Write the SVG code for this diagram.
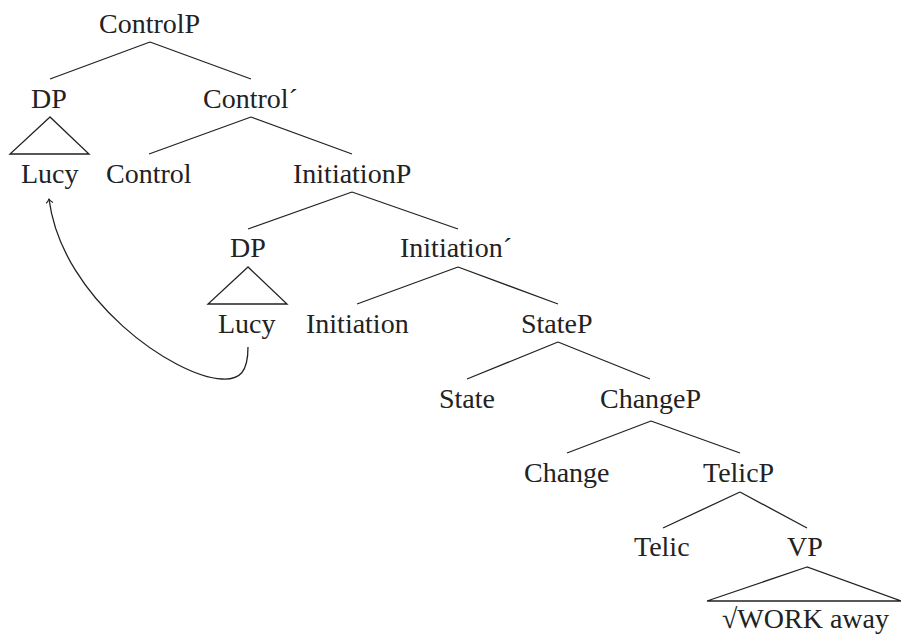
<svg xmlns="http://www.w3.org/2000/svg" width="901" height="636" viewBox="0 0 901 636">
<defs>
<marker id="ah" markerWidth="10" markerHeight="10" refX="5" refY="5" orient="auto" markerUnits="userSpaceOnUse">
<path d="M1,1.5 Q3,4 5,5 Q3,6 1,8.5" fill="none" stroke="#222" stroke-width="1"/>
</marker>
</defs>
<g id="connectors" stroke="#222" stroke-width="1.3" fill="none">
<path d="M150,42 L50,79 M150,42 L251,79"/>
<path d="M50,117 L10,154 L89,154 Z"/>
<path d="M251,117 L149,154 M251,117 L352,154"/>
<path d="M352,192 L248,229 M352,192 L458,229"/>
<path d="M248,267 L208,304 L287,304 Z"/>
<path d="M458,267 L357,304 M458,267 L558,304"/>
<path d="M558,342 L467,379 M558,342 L650,379"/>
<path d="M651,421 L567,453 M651,421 L740,453"/>
<path d="M740,492 L663,528 M740,492 L807,528"/>
<path d="M807,567 L707,601 L901,601 Z"/>
<path d="M248,347 C248,372 240,380 222,379 C175,377 62,300 49,199" marker-end="url(#ah)"/>
</g>
<g id="n-controlP"><text x="99" y="33" font-family="Liberation Serif" font-size="28" fill="#222">ControlP</text></g>
<g id="n-dp1"><text x="31" y="108" font-family="Liberation Serif" font-size="28" fill="#222">DP</text></g>
<g id="n-lucy1"><text x="21" y="183" font-family="Liberation Serif" font-size="28" fill="#222">Lucy</text></g>
<g id="n-controlbar"><text x="203" y="108" font-family="Liberation Serif" font-size="28" fill="#222">Control´</text></g>
<g id="n-control"><text x="106" y="183" font-family="Liberation Serif" font-size="28" fill="#222">Control</text></g>
<g id="n-initiationP"><text x="293" y="183" font-family="Liberation Serif" font-size="28" fill="#222">InitiationP</text></g>
<g id="n-dp2"><text x="230" y="257" font-family="Liberation Serif" font-size="28" fill="#222">DP</text></g>
<g id="n-lucy2"><text x="218" y="333" font-family="Liberation Serif" font-size="28" fill="#222">Lucy</text></g>
<g id="n-initiationbar"><text x="400" y="257" font-family="Liberation Serif" font-size="28" fill="#222">Initiation´</text></g>
<g id="n-initiation"><text x="306" y="333" font-family="Liberation Serif" font-size="28" fill="#222">Initiation</text></g>
<g id="n-stateP"><text x="521" y="333" font-family="Liberation Serif" font-size="28" fill="#222">StateP</text></g>
<g id="n-state"><text x="439" y="408" font-family="Liberation Serif" font-size="28" fill="#222">State</text></g>
<g id="n-changeP"><text x="600" y="408" font-family="Liberation Serif" font-size="28" fill="#222">ChangeP</text></g>
<g id="n-change"><text x="524" y="482" font-family="Liberation Serif" font-size="28" fill="#222">Change</text></g>
<g id="n-telicP"><text x="703" y="482" font-family="Liberation Serif" font-size="28" fill="#222">TelicP</text></g>
<g id="n-telic"><text x="634" y="556" font-family="Liberation Serif" font-size="28" fill="#222">Telic</text></g>
<g id="n-vp"><text x="787" y="556" font-family="Liberation Serif" font-size="28" fill="#222">VP</text></g>
<g id="n-work"><text x="722" y="628" font-family="Liberation Serif" font-size="28" fill="#222">√WORK away</text></g>
</svg>
